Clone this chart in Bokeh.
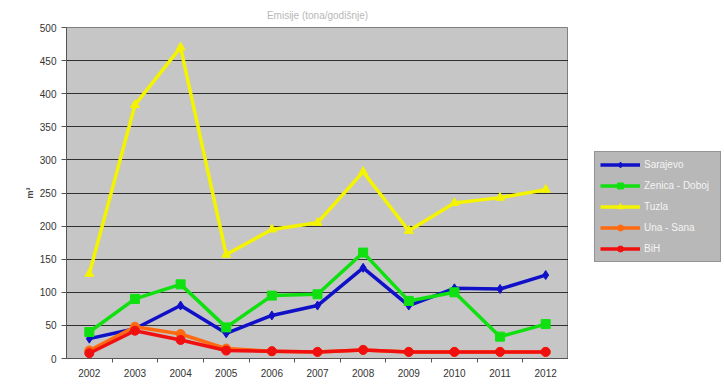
from bokeh.plotting import figure
from bokeh.layouts import row
from bokeh.models import Legend, LegendItem, FixedTicker, Range1d
from bokeh.embed import file_html
from bokeh.resources import INLINE

years = [2002, 2003, 2004, 2005, 2006, 2007, 2008, 2009, 2010, 2011, 2012]
series_names = ["Sarajevo", "Zenica - Doboj", "Tuzla", "Una - Sana", "BiH"]
blue = [30, 45, 80, 38, 65, 80, 137, 80, 106, 105, 126]
green = [40, 90, 112, 47, 95, 97, 160, 87, 100, 33, 52]
yellow = [128, 383, 470, 157, 195, 205, 282, 193, 235, 243, 255]
orange = [12, 48, 37, 15, 11, 10, 13, 10, 10, 10, 10]
red = [8, 42, 28, 12, 11, 10, 13, 10, 10, 10, 10]
y_ticks = [0, 50, 100, 150, 200, 250, 300, 350, 400, 450, 500]
title_text = "Emisije (tona/godišnje)"

p = figure(width=568, height=384, output_backend="svg", toolbar_location=None,
           x_range=Range1d(2001.5, 2012.5), y_range=Range1d(0, 500),
           min_border_left=66, min_border_right=0, min_border_top=27, min_border_bottom=26)
p.title.text = title_text
p.title.align = "center"
p.title.offset = 88
p.title.standoff = 13
p.title.text_font_size = "10px"
p.title.text_font_style = "normal"
p.title.text_color = "#b8b8b8"
p.background_fill_color = "#c6c6c6"
p.border_fill_color = "white"
p.outline_line_color = "#808080"
p.xgrid.grid_line_color = None
p.ygrid.grid_line_color = "#303030"
p.ygrid.grid_line_width = 1

p.yaxis.ticker = FixedTicker(ticks=y_ticks)
p.xaxis.ticker = FixedTicker(ticks=years, minor_ticks=[y + 0.5 for y in years[:-1]])
for ax in (p.xaxis, p.yaxis):
    ax.major_label_text_font = "Liberation Sans"
    ax.major_label_text_font_size = "10px"
    ax.major_label_text_color = "#333333"
    ax.axis_line_color = "#555555"
    ax.major_tick_line_color = "#555555"
    ax.minor_tick_line_color = "#555555"
p.xaxis.major_tick_out = 0
p.xaxis.major_tick_in = 0
p.xaxis.minor_tick_out = 4
p.xaxis.minor_tick_in = 0
p.xaxis.major_label_standoff = 6
p.yaxis.minor_tick_line_color = None
p.yaxis.major_tick_out = 5
p.yaxis.major_tick_in = 0
p.yaxis.axis_label = "m³"
p.yaxis.axis_label_text_font_size = "9px"
p.yaxis.axis_label_text_font_style = "bold"
p.yaxis.axis_label_standoff = 2

# legend-only figure
q = figure(width=156, height=384, output_backend="svg", toolbar_location=None,
           x_range=Range1d(0, 1), y_range=Range1d(0, 1),
           min_border=0, x_axis_location=None, y_axis_location=None)
q.xgrid.grid_line_color = None
q.ygrid.grid_line_color = None
q.outline_line_color = None
q.background_fill_color = "white"
q.border_fill_color = "white"

cols = ["#1010c8", "#10e010", "#f4f400", "#ff6a10", "#f01010"]
markers = ["diamond", "square", "triangle", "circle", "circle"]
data = [blue, green, yellow, orange, red]
items = []
for name, ys, c, m in zip(series_names, data, cols, markers):
    p.line(years, ys, line_color=c, line_width=3.5)
    p.scatter(years, ys, marker=m, size=9, fill_color=c, line_color=c)
    l2 = q.line(years, ys, line_color=c, line_width=3.5)
    s2 = q.scatter(years, ys, marker=m, size=9, fill_color=c, line_color=c)
    items.append(LegendItem(label=name, renderers=[l2, s2]))

leg = Legend(items=items, location=(26, 96), orientation="vertical",
             background_fill_color="#b8b8b8", background_fill_alpha=1,
             border_line_color="#707070", label_text_color="#f4f4f4",
             label_text_font_size="10px", glyph_width=40, glyph_height=15,
             spacing=6, padding=5, margin=0, label_standoff=4, label_width=71)
q.add_layout(leg, "center")

layout = row(p, q, spacing=0)
with open("out.html", "w") as f:
    f.write(file_html(layout, INLINE))
